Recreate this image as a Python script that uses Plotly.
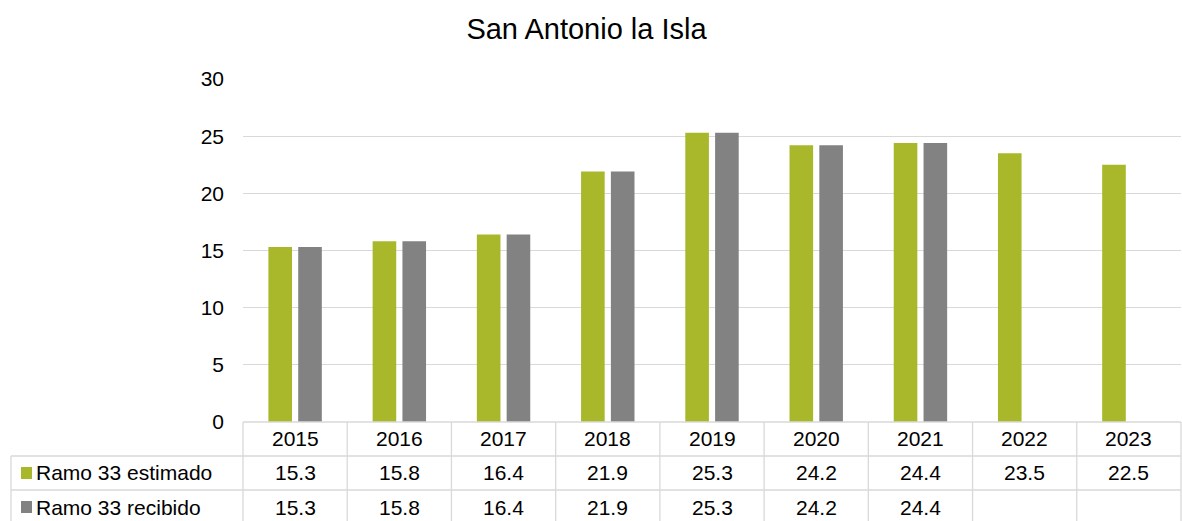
import plotly.graph_objects as go

years = ["2015", "2016", "2017", "2018", "2019", "2020", "2021", "2022", "2023"]
estimado = [15.3, 15.8, 16.4, 21.9, 25.3, 24.2, 24.4, 23.5, 22.5]
recibido = [15.3, 15.8, 16.4, 21.9, 25.3, 24.2, 24.4, None, None]
series_names = ["Ramo 33 estimado", "Ramo 33 recibido"]
series_colors = ["#A8B82A", "#828282"]
y_ticks = [0, 5, 10, 15, 20, 25, 30]
title_text = "San Antonio la Isla"

W, H = 1182, 521
L, R, T, B = 243, 1, 79, 99
plot_w = W - L - R
plot_h = H - T - B
FONT = "Liberation Sans, Arial, sans-serif"
GRID = "#D9D9D9"
FS = 21


def px_x(x):
    return (x - L) / plot_w


def px_y(y):
    return (H - B - y) / plot_h


fig = go.Figure()
for name, vals, col in zip(series_names, [estimado, recibido], series_colors):
    fig.add_trace(go.Bar(x=list(range(len(years))), y=vals, name=name,
                         marker=dict(color=col, line=dict(width=0)), hoverinfo="skip"))

row_tops = [H - B, 456, 490, 524]
label_left = 11
n = len(years)

shapes = []
for i, yy in enumerate(row_tops):
    x0 = 0 if i == 0 else px_x(label_left)
    shapes.append(dict(type="line", xref="paper", yref="paper", x0=x0, x1=1,
                       y0=px_y(yy), y1=px_y(yy), line=dict(color=GRID, width=1.3)))
for i in range(n + 1):
    xx = i / n
    shapes.append(dict(type="line", xref="paper", yref="paper", x0=xx, x1=xx,
                       y0=px_y(row_tops[0]), y1=px_y(row_tops[-1]), line=dict(color=GRID, width=1.3)))
shapes.append(dict(type="line", xref="paper", yref="paper", x0=px_x(label_left), x1=px_x(label_left),
                   y0=px_y(row_tops[1]), y1=px_y(row_tops[-1]), line=dict(color=GRID, width=1.3)))

annotations = []
hdr_y = px_y((row_tops[0] + row_tops[1]) / 2)
for i, yr in enumerate(years):
    annotations.append(dict(x=(i + 0.5) / n, xref="paper", y=hdr_y, yref="paper", text=yr, showarrow=False,
                            xanchor="center", yanchor="middle", font=dict(size=FS, color="#000", family=FONT)))

for r, (name, vals, col) in enumerate(zip(series_names, [estimado, recibido], series_colors)):
    top, bot = row_tops[r + 1], row_tops[r + 2]
    mid = (top + bot) / 2
    cy = px_y(mid)
    shapes.append(dict(type="rect", xref="paper", yref="paper", x0=px_x(21), x1=px_x(32),
                       y0=px_y(mid - 6), y1=px_y(mid + 6), fillcolor=col, line=dict(width=0)))
    annotations.append(dict(x=px_x(34), xref="paper", y=cy, yref="paper", text=name, showarrow=False,
                            xanchor="left", yanchor="middle", font=dict(size=FS, color="#000", family=FONT)))
    for i, v in enumerate(vals):
        if v is None:
            continue
        annotations.append(dict(x=(i + 0.5) / n, xref="paper", y=cy, yref="paper", text=f"{v:.1f}",
                                showarrow=False, xanchor="center", yanchor="middle",
                                font=dict(size=FS, color="#000", family=FONT)))

fig.update_layout(
    width=W, height=H,
    margin=dict(l=L, r=R, t=T, b=B, pad=0),
    paper_bgcolor="white", plot_bgcolor="white",
    barmode="group", bargap=0.428, bargroupgap=0.208,
    showlegend=False,
    title=dict(text=title_text, x=586.5 / W, xref="container", xanchor="center",
               y=1 - 29 / H, yref="container", yanchor="middle",
               font=dict(size=29, color="#000", family=FONT)),
    font=dict(family=FONT, color="#000"),
    shapes=shapes,
    annotations=annotations,
)
fig.update_xaxes(showticklabels=False, ticks="", showgrid=False, zeroline=False,
                 showline=False, range=[-0.5, n - 0.5])
fig.update_yaxes(range=[0, 30], tickvals=y_ticks, showgrid=True, gridcolor=GRID, gridwidth=1.3,
                 zeroline=False, showline=False, ticks="", ticklabelstandoff=18,
                 tickfont=dict(size=FS, color="#000", family=FONT))

fig.write_html("out.html", config={"displayModeBar": False},
               post_script="document.body.style.margin='0';")
